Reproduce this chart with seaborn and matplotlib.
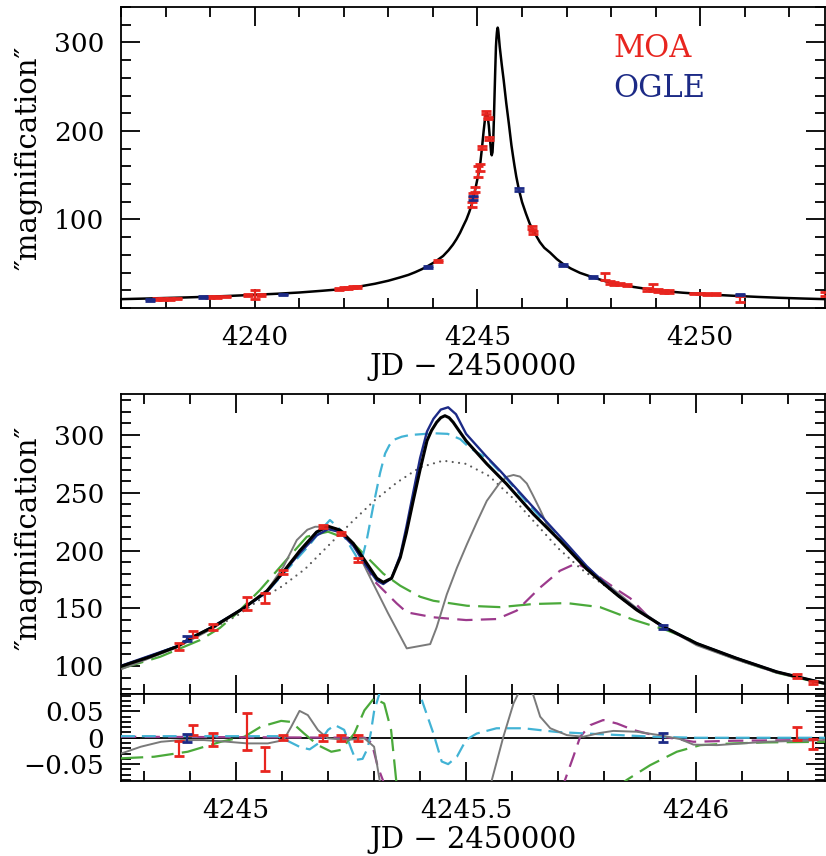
import numpy as np
import pandas as pd
import matplotlib
matplotlib.use("Agg")
import matplotlib.pyplot as plt
import seaborn as sns
from matplotlib.ticker import MultipleLocator, FixedLocator

# ---------------- data ----------------
# best model (black), full range
model_t = [4237.0, 4237.5, 4238.0, 4238.5, 4239.0, 4239.5, 4240.0, 4240.5, 4241.0, 4241.5,
           4242.0, 4242.4, 4242.7, 4243.0, 4243.26, 4243.45, 4243.6, 4243.75, 4243.89, 4244.05,
           4244.23, 4244.35, 4244.45, 4244.53, 4244.61, 4244.68, 4244.752, 4244.813, 4244.871,
           4244.907, 4244.951, 4245.016, 4245.067, 4245.103, 4245.139, 4245.175, 4245.2, 4245.226,
           4245.255, 4245.284, 4245.306, 4245.32, 4245.338, 4245.357, 4245.37, 4245.385, 4245.4,
           4245.415, 4245.425, 4245.436, 4245.445, 4245.454, 4245.463, 4245.472, 4245.485, 4245.5,
           4245.545, 4245.588, 4245.646, 4245.704, 4245.762, 4245.798, 4245.83, 4245.871, 4245.929,
           4246.001, 4246.088, 4246.175, 4246.233, 4246.28, 4246.4, 4246.5, 4246.63, 4246.78,
           4246.93, 4247.1, 4247.3, 4247.6, 4247.9, 4248.2, 4248.5, 4248.85, 4249.25, 4249.6,
           4250.0, 4250.4, 4250.75, 4251.3, 4251.8, 4252.3, 4252.8]
model_A = [10.0, 10.6, 11.3, 12.0, 12.8, 13.8, 14.9, 16.1, 17.5, 19.4,
           21.5, 24.7, 27.4, 30.8, 34.5, 37.4, 40.4, 43.8, 47.5, 52.2,
           58.8, 65.2, 71.6, 77.8, 85.0, 92.5, 100.0, 108.0, 116.7,
           125.4, 134.0, 150.0, 165.0, 181.6, 200.0, 216.0, 221.0, 217.7,
           206.0, 189.0, 176.0, 172.5, 176.0, 194.0, 215.0, 243.0, 270.0,
           295.0, 304.0, 311.0, 315.0, 316.7, 315.0, 311.0, 303.5, 295.0,
           275.0, 257.6, 231.6, 208.5, 184.0, 171.6, 161.0, 148.5, 134.0,
           119.6, 106.7, 95.0, 89.4, 85.0, 74.5, 68.0, 62.6, 55.3,
           49.4, 44.5, 39.7, 34.5, 29.8, 26.5, 23.8, 21.2, 18.8, 17.3,
           15.9, 14.7, 13.8, 12.5, 11.5, 10.7, 10.0]

navy_t = [4244.752, 4244.871, 4244.951, 4245.016, 4245.067, 4245.103, 4245.139, 4245.175, 4245.2,
          4245.226, 4245.255, 4245.284, 4245.306, 4245.32, 4245.338, 4245.357, 4245.37, 4245.385,
          4245.4, 4245.415, 4245.429, 4245.445, 4245.461, 4245.478, 4245.5, 4245.545, 4245.574,
          4245.646, 4245.719, 4245.762, 4245.798, 4245.83, 4245.871, 4245.929, 4246.001, 4246.088,
          4246.175, 4246.233, 4246.28]
navy_A = [100.5, 117.0, 134.5, 150.0, 164.0, 181.0, 198.0, 213.0, 218.5,
          216.0, 204.0, 186.0, 174.0, 171.0, 176.0, 196.0, 220.0, 250.0,
          280.0, 303.0, 314.0, 322.0, 324.0, 318.0, 301.0, 281.0, 269.0,
          237.4, 205.6, 186.5, 173.0, 161.3, 149.0, 134.0, 119.6, 106.7,
          95.0, 89.4, 85.0]

gray_t = [4244.752, 4244.871, 4244.951, 4245.016, 4245.067, 4245.103, 4245.132, 4245.155, 4245.172,
          4245.197, 4245.226, 4245.255, 4245.291, 4245.33, 4245.371, 4245.422, 4245.436, 4245.458,
          4245.48, 4245.502, 4245.525, 4245.545, 4245.574, 4245.59, 4245.603, 4245.617, 4245.632,
          4245.645, 4245.66, 4245.675, 4245.697, 4245.704, 4245.762, 4245.798, 4245.871, 4245.929,
          4246.001, 4246.088, 4246.175, 4246.233, 4246.28]
gray_A = [97.5, 116.0, 133.0, 150.0, 165.0, 186.0, 209.0, 218.0, 220.6,
          220.5, 217.5, 206.0, 177.0, 146.0, 115.3, 119.0, 133.5, 162.0,
          185.0, 205.6, 226.0, 243.0, 259.0, 264.0, 265.4, 264.0, 258.0,
          248.0, 236.0, 223.0, 211.0, 209.0, 186.0, 173.5, 150.0, 134.3,
          118.0, 105.5, 94.3, 89.0, 84.7]

cyan_t = [4244.752, 4244.871, 4244.951, 4245.016, 4245.067, 4245.117, 4245.16, 4245.185, 4245.204,
          4245.222, 4245.24, 4245.262, 4245.273, 4245.284, 4245.298, 4245.313, 4245.324, 4245.333,
          4245.342, 4245.36, 4245.378, 4245.43, 4245.46, 4245.487, 4245.509, 4245.545, 4245.588,
          4245.646, 4245.704, 4245.762, 4245.798, 4245.871, 4245.929, 4246.001, 4246.088, 4246.175,
          4246.233, 4246.28]
cyan_A = [100.0, 117.0, 134.5, 150.0, 164.0, 186.0, 205.0, 218.0, 226.4,
          220.0, 209.0, 194.6, 191.8, 209.0, 238.0, 267.0, 284.0, 291.0,
          295.7, 298.5, 300.0, 301.5, 301.0, 296.5, 288.5, 280.0, 262.0,
          235.5, 210.6, 185.5, 172.8, 149.2, 134.2, 119.6, 106.7, 95.0,
          89.4, 85.0]

dot_t = [4244.752, 4244.85, 4244.95, 4245.0, 4245.05, 4245.1, 4245.15, 4245.2, 4245.25, 4245.3,
         4245.35, 4245.4, 4245.45, 4245.5, 4245.55, 4245.6, 4245.65, 4245.7, 4245.75, 4245.8,
         4245.871, 4245.929, 4246.001, 4246.088, 4246.175, 4246.233, 4246.28]
dot_A = [98.0, 113.0, 133.0, 143.0, 157.0, 169.0, 184.0, 204.0, 224.0, 243.0,
         259.0, 272.0, 277.8, 275.0, 264.5, 246.0, 224.0, 202.0, 184.0, 170.0,
         148.3, 134.0, 119.6, 106.7, 95.0, 89.4, 85.0]

green_t = [4244.752, 4244.835, 4244.922, 4244.965, 4245.0, 4245.052, 4245.103, 4245.154, 4245.2,
           4245.248, 4245.32, 4245.357, 4245.4, 4245.429, 4245.502, 4245.574, 4245.646, 4245.719,
           4245.791, 4245.864, 4245.936, 4245.987, 4246.001, 4246.088, 4246.175, 4246.233, 4246.28]
green_A = [98.0, 108.0, 122.5, 133.0, 145.0, 165.8, 189.0, 212.0, 216.3,
           209.0, 180.0, 169.5, 160.0, 156.5, 152.2, 151.0, 153.7, 154.5,
           151.0, 140.0, 131.0, 123.0, 119.0, 105.8, 94.2, 88.7, 84.4]

purple_t = [4244.752, 4244.871, 4244.951, 4245.016, 4245.067, 4245.103, 4245.139, 4245.175, 4245.2,
            4245.226, 4245.255, 4245.284, 4245.298, 4245.349, 4245.371, 4245.429, 4245.5, 4245.567,
            4245.61, 4245.661, 4245.704, 4245.74, 4245.777, 4245.798, 4245.835, 4245.857, 4245.9,
            4245.929, 4246.001, 4246.088, 4246.175, 4246.233, 4246.28]
purple_A = [100.0, 116.7, 134.0, 150.0, 165.0, 181.6, 200.0, 216.0, 221.0,
            217.7, 206.0, 187.0, 174.5, 154.3, 146.5, 142.2, 139.8, 140.7,
            148.0, 168.0, 182.5, 189.0, 181.0, 174.5, 164.3, 158.6, 141.0,
            133.5, 119.0, 106.0, 94.5, 89.0, 84.7]

# residuals (relative to best model)
gray_rt = [4244.75, 4244.793, 4244.837, 4244.88, 4244.93, 4244.982, 4245.025, 4245.069, 4245.095,
           4245.105, 4245.12, 4245.138, 4245.156, 4245.178, 4245.199, 4245.243, 4245.279, 4245.3,
           4245.312, 4245.33, 4245.4, 4245.5, 4245.54, 4245.556, 4245.581, 4245.603, 4245.614,
           4245.63, 4245.646, 4245.661, 4245.683, 4245.719, 4245.755, 4245.79, 4245.82, 4245.871,
           4245.92, 4245.965, 4245.994, 4246.045, 4246.152, 4246.28]
gray_r = [-0.030, -0.017, -0.0076, -0.0044, -0.0044, -0.0076, -0.0107, -0.0107, -0.006,
          -0.002, 0.021, 0.051, 0.043, 0.0146, -0.001, -0.004, -0.001, -0.017,
          -0.08, -0.2, -0.55, -0.3, -0.13, -0.08, 0.002, 0.065, 0.085,
          0.1, 0.081, 0.04, 0.018, 0.005, 0.002, 0.009, 0.013, 0.0114,
          0.005, -0.0025, -0.013, -0.014, -0.0076, -0.0044]

cyan_rt = [4244.75, 4245.09, 4245.11, 4245.14, 4245.16, 4245.18, 4245.2, 4245.215, 4245.235,
           4245.25, 4245.26, 4245.275, 4245.286, 4245.293, 4245.3, 4245.312, 4245.33, 4245.36,
           4245.39, 4245.4, 4245.429, 4245.447, 4245.461, 4245.48, 4245.5, 4245.523, 4245.566,
           4245.625, 4245.697, 4245.762, 4245.835, 4245.907, 4246.0, 4246.28]
cyan_r = [0.003, 0.003, -0.005, -0.018, -0.022, -0.01, 0.015, 0.024, 0.015,
          -0.02, -0.042, -0.04, -0.02, 0.01, 0.05, 0.085, 0.3, 0.5,
          0.2, 0.081, 0.008, -0.045, -0.05, -0.036, -0.004, 0.008, 0.018,
          0.018, 0.011, 0.008, 0.005, 0.002, 0.0, 0.0]

green_rt = [4244.75, 4244.822, 4244.895, 4244.967, 4245.018, 4245.054, 4245.098, 4245.12, 4245.148,
            4245.178, 4245.207, 4245.228, 4245.257, 4245.279, 4245.3, 4245.322, 4245.337, 4245.348,
            4245.36, 4245.45, 4245.6, 4245.75, 4245.82, 4245.849, 4245.9, 4245.958, 4246.009,
            4246.081, 4246.154, 4246.28]
green_r = [-0.039, -0.036, -0.0265, -0.0076, 0.002, 0.021, 0.032, 0.030, 0.008,
           -0.014, -0.0265, -0.023, 0.008, 0.052, 0.075, 0.065, 0.0146, -0.08,
           -0.2, -0.5, -0.35, -0.15, -0.1, -0.08, -0.052, -0.0265, -0.014,
           -0.0107, -0.0088, -0.0076]

purple_rt = [4244.75, 4245.28, 4245.295, 4245.308, 4245.319, 4245.33, 4245.45, 4245.6, 4245.7,
             4245.715, 4245.733, 4245.748, 4245.77, 4245.798, 4245.828, 4245.864, 4245.907,
             4245.994, 4246.081, 4246.28]
purple_r = [0.002, 0.0, -0.01, -0.055, -0.08, -0.12, -0.55, -0.4, -0.13,
            -0.08, -0.036, 0.002, 0.024, 0.0336, 0.027, 0.0146, 0.005,
            -0.0076, -0.0057, -0.004]

# MOA data in zoomed window
moa_t = [4244.875, 4244.907, 4244.951, 4245.023, 4245.063, 4245.103, 4245.188, 4245.228, 4245.266,
         4246.219, 4246.255]
moa_A = [116.7, 127.7, 134.0, 154.3, 158.6, 181.6, 220.6, 214.8, 191.8, 91.3, 85.6]
moa_e = [2.9, 2.5, 2.5, 5.8, 4.3, 1.5, 1.5, 1.5, 1.5, 1.5, 1.5]
moa_r = [-0.020, 0.0146, -0.003, 0.0127, -0.040, 0.0, -0.001, -0.001, -0.001, 0.0083, -0.0126]
moa_re = [0.0137, 0.0095, 0.0127, 0.035, 0.0225, 0.005, 0.006, 0.006, 0.006, 0.0127, 0.0095]

# MOA data outside zoomed window
moa_w_t = [4237.80, 4237.95, 4238.10, 4238.25, 4239.00, 4239.15, 4239.35, 4239.85, 4240.00, 4240.15,
           4241.90, 4242.00, 4242.10, 4242.20, 4242.30, 4244.12, 4247.87, 4247.97, 4248.07, 4248.20,
           4248.35, 4248.80, 4248.93, 4249.05, 4249.18, 4249.30, 4249.85, 4250.00, 4250.15, 4250.35,
           4250.90, 4252.80]
moa_w_A = [10.0, 10.3, 10.5, 10.8, 12.3, 12.5, 12.7, 14.8, 15.5, 15.0,
           21.8, 22.3, 22.8, 23.5, 24.0, 53.2, 35.6, 29.0, 28.0, 27.0,
           26.0, 21.0, 23.0, 20.0, 19.0, 18.5, 16.5, 16.3, 16.0, 15.8,
           10.0, 15.6]
moa_w_e = [1.0, 1.0, 1.0, 1.0, 0.8, 0.8, 0.8, 1.0, 5.0, 1.0,
           1.2, 1.2, 1.2, 1.2, 1.2, 1.5, 4.0, 2.0, 1.5, 1.5,
           1.5, 1.5, 4.0, 1.5, 1.5, 1.5, 1.0, 1.0, 1.0, 1.0,
           3.5, 2.0]

# OGLE data
ogle_t = [4244.893, 4245.929]
ogle_A = [124.0, 134.0]
ogle_e = [2.0, 1.5]
ogle_r = [0.0, 0.001]
ogle_re = [0.008, 0.0085]
ogle_w_t = [4237.64, 4238.83, 4240.63, 4243.90, 4246.93, 4247.59, 4250.90]
ogle_w_A = [9.0, 12.6, 15.5, 46.4, 48.6, 35.1, 15.0]
ogle_w_e = [0.8, 0.8, 0.8, 1.0, 1.0, 1.0, 0.8]

# ---------------- style ----------------
sns.set_theme(style="ticks")
plt.rcParams['font.family'] = ['DejaVu Serif', 'DejaVu Sans']
plt.rcParams['lines.scale_dashes'] = False
for k in ['text.color', 'axes.labelcolor', 'xtick.color', 'ytick.color', 'axes.edgecolor']:
    plt.rcParams[k] = 'black'

RED = '#e8251f'
NAVY = '#1c2a86'
CYAN = '#42b3d5'
GREEN = '#4aa93a'
PURPLE = '#9c3a8c'
GRAY = '#7a7a7a'
DOTGRAY = '#5a5a5a'

W, H = 826, 856
fig = plt.figure(figsize=(W / 100, H / 100), dpi=100)

def pos(l, t, r, b):
    return [l / W, 1 - b / H, (r - l) / W, (b - t) / H]

ax1 = fig.add_axes(pos(121, 7, 825, 308))
ax2 = fig.add_axes(pos(121, 394, 825, 694))
ax3 = fig.add_axes(pos(121, 694, 825, 781))

def style(ax):
    ax.tick_params(which='both', direction='in', top=True, right=True, width=1.3,
                   labelsize=19, pad=12, colors='black')
    ax.tick_params(which='major', length=14)
    ax.tick_params(which='minor', length=7)
    for s in ax.spines.values():
        s.set_linewidth(1.3)
        s.set_color('black')

def curve(ax, t, y, **kw):
    sns.lineplot(x=t, y=y, ax=ax, sort=False, estimator=None, **kw)

def errs(ax, t, y, e, color, z=10):
    ax.errorbar(t, y, yerr=e, fmt='none', ecolor=color, elinewidth=1.6,
                capsize=3.8, capthick=2.0, zorder=z)

# ---------- top panel ----------
curve(ax1, model_t, model_A, color='black', linewidth=1.8, zorder=5)
errs(ax1, moa_w_t, moa_w_A, moa_w_e, RED)
errs(ax1, moa_t, moa_A, moa_e, RED)
errs(ax1, ogle_w_t, ogle_w_A, ogle_w_e, NAVY)
errs(ax1, ogle_t, ogle_A, ogle_e, NAVY)
ax1.set_xlim(4237.0, 4252.8)
ax1.set_ylim(0, 340)
ax1.xaxis.set_major_locator(FixedLocator([4240, 4245, 4250]))
ax1.xaxis.set_minor_locator(MultipleLocator(1))
ax1.yaxis.set_major_locator(FixedLocator([100, 200, 300]))
ax1.yaxis.set_minor_locator(MultipleLocator(20))
ax1.set_xticklabels(['4240', '4245', '4250'])
ax1.set_yticklabels(['100', '200', '300'])
style(ax1)
ax1.set_xlabel('JD − 2450000', fontsize=21)
ax1.set_ylabel('″magnification″', fontsize=21)
ax1.xaxis.set_label_coords(0.5, -0.15)
ax1.yaxis.set_label_coords(-0.111, 0.5)
ax1.text(0.699, 0.834, 'MOA', color=RED, fontsize=22, transform=ax1.transAxes, va='baseline')
ax1.text(0.699, 0.701, 'OGLE', color=NAVY, fontsize=22, transform=ax1.transAxes, va='baseline')

# ---------- middle panel ----------
curve(ax2, dot_t, dot_A, color=DOTGRAY, linewidth=1.6, linestyle=(0, (0.01, 4.6)),
      dash_capstyle='round', zorder=2)
curve(ax2, green_t, green_A, color=GREEN, linewidth=1.6, linestyle=(0, (16, 6)), zorder=3)
curve(ax2, purple_t, purple_A, color=PURPLE, linewidth=1.6, linestyle=(0, (11, 6)), zorder=3)
curve(ax2, cyan_t, cyan_A, color=CYAN, linewidth=1.6, linestyle=(0, (10, 5)), zorder=4)
curve(ax2, gray_t, gray_A, color=GRAY, linewidth=1.4, zorder=4)
curve(ax2, navy_t, navy_A, color=NAVY, linewidth=1.7, zorder=5)
curve(ax2, model_t, model_A, color='black', linewidth=2.2, zorder=6)
errs(ax2, moa_t, moa_A, moa_e, RED)
errs(ax2, ogle_t, ogle_A, ogle_e, NAVY)
ax2.set_xlim(4244.75, 4246.28)
ax2.set_ylim(75.8, 335.5)
ax2.xaxis.set_major_locator(FixedLocator([4245, 4245.5, 4246]))
ax2.xaxis.set_minor_locator(MultipleLocator(0.1))
ax2.yaxis.set_major_locator(FixedLocator([100, 150, 200, 250, 300]))
ax2.yaxis.set_minor_locator(MultipleLocator(10))
ax2.set_yticklabels(['100', '150', '200', '250', '300'])
style(ax2)
ax2.tick_params(labelbottom=False)
ax2.set_xlabel('')
ax2.set_ylabel('″magnification″', fontsize=21)
ax2.yaxis.set_label_coords(-0.111, 0.52)

# ---------- residual panel ----------
ax3.axhline(0, color='black', linewidth=1.3, zorder=1)
curve(ax3, green_rt, green_r, color=GREEN, linewidth=1.6, linestyle=(0, (16, 6)), zorder=3)
curve(ax3, purple_rt, purple_r, color=PURPLE, linewidth=1.6, linestyle=(0, (11, 6)), zorder=3)
curve(ax3, cyan_rt, cyan_r, color=CYAN, linewidth=1.6, linestyle=(0, (10, 5)), zorder=4)
curve(ax3, gray_rt, gray_r, color=GRAY, linewidth=1.4, zorder=4)
errs(ax3, moa_t, moa_r, moa_re, RED)
errs(ax3, ogle_t, ogle_r, ogle_re, NAVY)
ax3.set_xlim(4244.75, 4246.28)
ax3.set_ylim(-0.082, 0.083)
ax3.xaxis.set_major_locator(FixedLocator([4245, 4245.5, 4246]))
ax3.xaxis.set_minor_locator(MultipleLocator(0.1))
ax3.set_xticklabels(['4245', '4245.5', '4246'])
ax3.yaxis.set_major_locator(FixedLocator([-0.05, 0, 0.05]))
ax3.yaxis.set_minor_locator(MultipleLocator(0.01))
ax3.set_yticklabels(['−0.05', '0', '0.05'])
style(ax3)
ax3.set_ylabel('')
ax3.set_xlabel('JD − 2450000', fontsize=21)
ax3.xaxis.set_label_coords(0.5, -0.52)

fig.savefig('out.png', dpi=100)
